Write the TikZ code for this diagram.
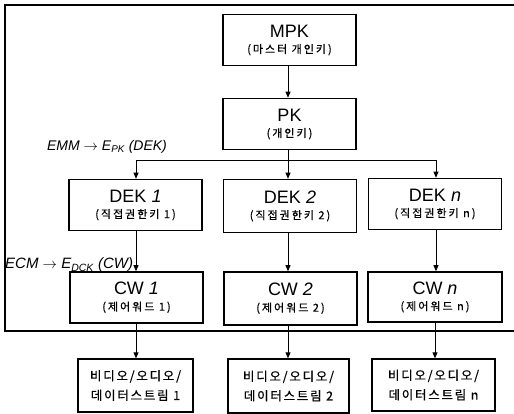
\documentclass[tikz,border=0pt]{standalone}
\usepackage{fontspec}
\setmainfont{Liberation Sans}
\newfontfamily\kr{Noto Sans CJK KR}[LetterSpace=18, FakeBold=0.6]
\newfontfamily\krs{Noto Sans CJK KR}[LetterSpace=14, FakeBold=0.6]
\usetikzlibrary{arrows.meta}
\tikzset{
  box/.style={draw, line width=1.6pt, minimum width=133pt, minimum height=51pt, align=center, inner sep=0pt},
  sbox/.style={draw, line width=1.3pt, minimum height=53pt, align=center, inner sep=0pt},
  arr/.style={-{Triangle[length=6pt,width=5pt]}, line width=0.8pt},
  ln/.style={line width=0.8pt},
  lbl/.style={font=\itshape\fontsize{14}{16}\selectfont, inner sep=0pt}
}
\newcommand{\bigtxt}[1]{{\fontsize{18}{20}\selectfont #1}}
\newcommand{\smtxt}[1]{{\kr\fontsize{11}{13}\selectfont #1}}
\newcommand{\sttxt}[1]{{\krs\fontsize{12.5}{22}\selectfont #1}}
\begin{document}
\begin{tikzpicture}[x=1pt,y=-1pt]
\useasboundingbox (0,0) rectangle (514,414);
\draw[line width=1.3pt] (514,5) -- (5,5) -- (5,331) -- (514,331);
\node[box] (mpk) at (289.5,40) {\bigtxt{MPK}\\[4pt]\smtxt{(마스터 개인키)}};
\node[box] (pk) at (289.5,124) {\bigtxt{PK}\\[4pt]\smtxt{(개인키)}};
\node[box] (d1) at (135.5,205) {\bigtxt{DEK \textit{1}}\\[4pt]\smtxt{(직접권한키 1)}};
\node[box, minimum height=53pt] (d2) at (290,206) {\bigtxt{DEK \textit{2}}\\[4pt]\smtxt{(직접권한키 2)}};
\node[box] (dn) at (435,204) {\bigtxt{DEK \textit{n}}\\[4pt]\smtxt{(직접권한키 n)}};
\node[box] (c1) at (136.5,297.5) {\bigtxt{CW \textit{1}}\\[4pt]\smtxt{(제어워드 1)}};
\node[box, minimum height=53pt] (c2) at (290.5,298.5) {\bigtxt{CW \textit{2}}\\[4pt]\smtxt{(제어워드 2)}};
\node[box, minimum width=134pt, minimum height=50pt] (cn) at (435,297) {\bigtxt{CW \textit{n}}\\[4pt]\smtxt{(제어워드 n)}};
\node[sbox, minimum width=115pt] (s1) at (135.5,385.5) {\sttxt{비디오/오디오/}\\[6pt]\sttxt{데이터스트림 1}};
\node[sbox, minimum width=121pt, minimum height=54pt] (s2) at (288.5,386) {\sttxt{비디오/오디오/}\\[6pt]\sttxt{데이터스트림 2}};
\node[sbox, minimum width=123pt, minimum height=52pt] (s3) at (433.5,385) {\sttxt{비디오/오디오/}\\[6pt]\sttxt{데이터스트림 n}};
\draw[arr] (mpk.south -| 288,0) -- (pk.north -| 288,0);
\coordinate (br) at (288,160);
\coordinate (bl) at (136,160);
\coordinate (brr) at (436,160);
\draw[ln] (pk.south -| br) -- (br);
\draw[ln] (bl) -- (brr);
\draw[arr] (bl) -- (d1.north -| bl);
\draw[arr] (br) -- (d2.north -| br);
\draw[arr] (brr) -- (dn.north -| brr);
\draw[arr] (d1.south -| 136,0) -- (c1.north -| 136,0);
\draw[arr] (d2.south -| 288,0) -- (c2.north -| 288,0);
\draw[arr] (dn.south -| 436,0) -- (cn.north -| 436,0);
\draw[arr] (c1.south -| 136,0) -- (s1.north -| 136,0);
\draw[arr] (c2.south -| 288,0) -- (s2.north -| 288,0);
\draw[arr] (cn.south -| 435,0) -- (s3.north -| 435,0);
\node[lbl] (emm) at (107,147) {EMM $\rightarrow$ E\textsubscript{PK} (DEK)};
\node[lbl, anchor=west, font=\itshape\fontsize{15}{17}\selectfont] (ecm) at (5,265) {ECM $\rightarrow$ E\textsubscript{DCK} (CW)};
\end{tikzpicture}
\end{document}
